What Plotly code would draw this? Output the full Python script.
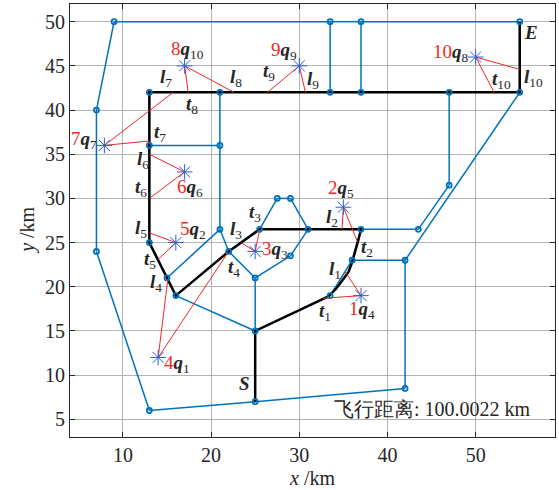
import plotly.graph_objects as go

# ---------------- data ----------------
node_x = [9, 33.5, 37, 55, 13, 21, 33.5, 37, 47, 55, 7, 13, 21, 47, 27.5, 29, 21, 25.5, 31, 37,
          43.5, 13, 7, 22, 29, 36, 42, 15, 25, 16, 33.5, 25, 42, 25, 13]
node_y = [50, 50, 50, 50, 42, 42, 42, 42, 42, 42, 40, 36, 36, 31.5, 30, 30, 26.5, 26.5, 26.5, 26.5,
          26.5, 25, 24, 24, 23.5, 23, 23, 21, 21, 19, 19, 15, 8.5, 7, 6]
edges = [(0, 1), (1, 2), (2, 3), (0, 10), (10, 22), (22, 34), (34, 33), (33, 32), (32, 26), (26, 25),
         (26, 9), (20, 13), (13, 8), (19, 20), (1, 6), (2, 7), (4, 5), (5, 6), (6, 7), (7, 8), (8, 9),
         (9, 3), (4, 11), (11, 21), (11, 12), (5, 12), (12, 16), (16, 27), (16, 23), (23, 28), (28, 24),
         (24, 18), (18, 15), (15, 14), (14, 17), (17, 18), (18, 19), (28, 31), (29, 31), (31, 33),
         (21, 27), (27, 29), (29, 23), (23, 17), (31, 30), (30, 25), (25, 19)]

path_x = [25, 25, 33.3, 34.2, 34.9, 35.6, 36.0, 36.4, 36.7, 37, 25.5, 22, 16, 13, 13, 55, 55]
path_y = [7, 15, 18.9, 19.8, 20.75, 21.7, 22.8, 24.15, 25.3, 26.5, 26.5, 24, 19, 25, 42, 42, 50]

# targets in visiting order 1..10
visit_order = [1, 2, 3, 4, 5, 6, 7, 8, 9, 10]
q_index = [4, 5, 3, 1, 2, 6, 7, 10, 9, 8]
q_x = [37, 35, 25, 14, 16, 17, 7.9, 17, 30, 50]
q_y = [19, 29, 24, 12, 25, 33, 36, 45, 45, 46]
l_x = [35.2, 34.85, 23.4, 15.1, 13, 13, 15.7, 22.6, 30.7, 55]
l_y = [21.7, 26.5, 25.0, 20.9, 26.1, 35.0, 42, 42, 42, 44.6]
t_x = [32.7, 36.6, 25.5, 22, 14, 13, 13, 17.4, 26.4, 52.1]
t_y = [18.7, 25.1, 26.4, 24, 23.1, 30, 36.5, 42, 42, 42]

flight_distance = 100.0022

x_ticks = [10, 20, 30, 40, 50]
y_ticks = [5, 10, 15, 20, 25, 30, 35, 40, 45, 50]

# ---------------- label placement (layout) ----------------
q_lab_pos = [(37.1, 17.35), (34.72, 31.05), (27.23, 24.14), (16.1, 11.23), (17.92, 26.41),
             (17.58, 31.17), (5.55, 36.6), (17.3, 46.79), (28.25, 46.68), (47.2, 46.45)]
l_lab_pos = [(34.04, 21.88), (33.66, 27.73), (22.88, 26.41), (13.72, 20.44), (12.1, 26.49),
             (12.28, 34.34), (14.94, 43.59), (22.88, 43.59), (31.57, 43.4), (56.54, 43.59)]
t_lab_pos = [(32.9, 17.16), (37.63, 24.34), (24.96, 28.3), (22.58, 22.18), (13.04, 23.01),
             (12.1, 31.17), (14.18, 37.36), (17.78, 40.56), (26.55, 44.3), (52.95, 43.4)]

BLUE = '#0072BD'
RED = '#f02828'
STAR = '#2d5fd3'
TXT = '#262626'
FONT = 'Liberation Serif'

fig = go.Figure()

ex, ey = [], []
for a, b in edges:
    ex += [node_x[a], node_x[b], None]
    ey += [node_y[a], node_y[b], None]
fig.add_trace(go.Scatter(x=ex, y=ey, mode='lines', line=dict(color=BLUE, width=1.5),
                         hoverinfo='skip', showlegend=False))
fig.add_trace(go.Scatter(x=path_x, y=path_y, mode='lines', line=dict(color='black', width=2.5),
                         showlegend=False))
fig.add_trace(go.Scatter(x=node_x, y=node_y, mode='markers',
                         marker=dict(symbol='circle-open', size=5, color=BLUE, line=dict(width=1.8)),
                         showlegend=False))
rx, ry = [], []
for i in range(len(q_x)):
    rx += [l_x[i], q_x[i], t_x[i], None]
    ry += [l_y[i], q_y[i], t_y[i], None]
fig.add_trace(go.Scatter(x=rx, y=ry, mode='lines', line=dict(color=RED, width=1),
                         showlegend=False))
fig.add_trace(go.Scatter(x=q_x, y=q_y, mode='markers',
                         marker=dict(symbol='asterisk-open', size=13, color=STAR, line=dict(width=1, color=STAR)),
                         showlegend=False))

ann = []
def add(x, y, text, size=19, ref='x'):
    ann.append(dict(x=x, y=y, xref=ref, yref=ref.replace('x', 'y'), text=text, showarrow=False,
                    font=dict(family=FONT, size=size, color=TXT)))

for k in range(len(visit_order)):
    add(*q_lab_pos[k], f"<span style='color:{RED}'>{visit_order[k]}</span><b><i>q</i></b><sub>{q_index[k]}</sub>")
    add(*l_lab_pos[k], f"<b><i>l</i></b><sub>{visit_order[k]}</sub>")
    add(*t_lab_pos[k], f"<b><i>t</i></b><sub>{visit_order[k]}</sub>")
add(23.83, 9.08, "<b><i>S</i></b>")
add(56.27, 48.72, "<b><i>E</i></b>")
add(45.1, 6.22, f"飞行距离: {flight_distance:.4f} km", size=20)

# axis titles
ann.append(dict(x=0.499, y=-0.095, xref='paper', yref='paper', text='<i>x</i> /km', showarrow=False,
                xanchor='center', yanchor='middle', font=dict(family=FONT, size=20, color=TXT)))
ann.append(dict(x=-0.089, y=0.478, xref='paper', yref='paper', text='<i>y</i> /km', showarrow=False,
                textangle=-90, xanchor='center', yanchor='middle',
                font=dict(family=FONT, size=20, color=TXT)))

axis_common = dict(showgrid=True, gridcolor='#b4b4b4', gridwidth=1, zeroline=False,
                   showline=True, linecolor=TXT, linewidth=1, mirror='ticks',
                   ticks='inside', ticklen=5, tickcolor=TXT,
                   tickfont=dict(family=FONT, size=20, color=TXT))

fig.update_layout(
    width=559, height=490,
    margin=dict(l=70, r=4, t=4, b=53),
    plot_bgcolor='white', paper_bgcolor='white',
    xaxis=dict(range=[4, 59], tickvals=x_ticks, **axis_common),
    yaxis=dict(range=[3, 52], tickvals=y_ticks, **axis_common),
    annotations=ann,
    hovermode=False,
)

fig.write_html('out.html', config={'displayModeBar': False},
               post_script="document.body.style.margin='0';document.body.style.overflow='hidden';")
